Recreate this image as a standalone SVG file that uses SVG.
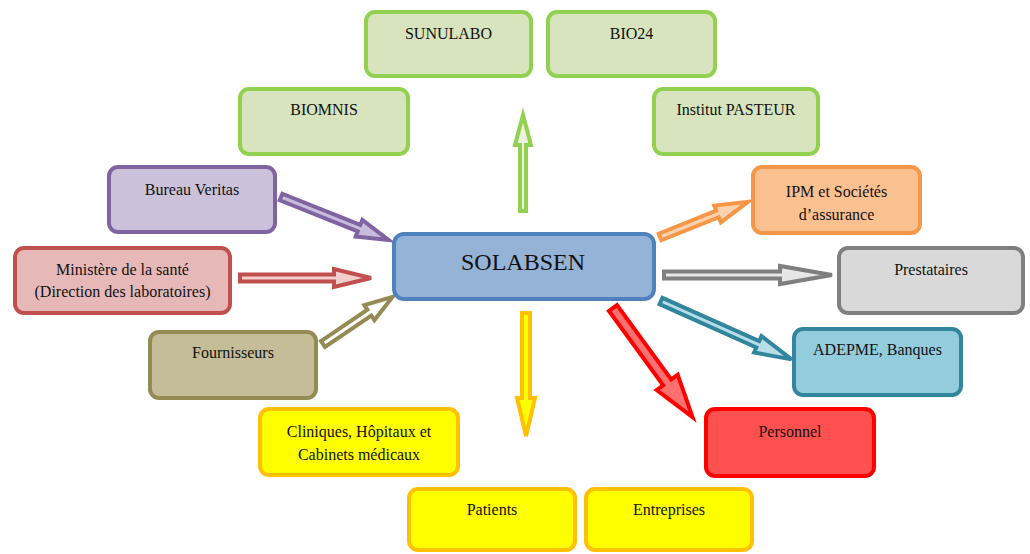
<svg xmlns="http://www.w3.org/2000/svg" width="1030" height="554" viewBox="0 0 1030 554">
<style>
.box{stroke-width:4}
.lbl{font-family:"Liberation Serif","Times New Roman",serif;font-size:16px;fill:#111;text-anchor:middle}
.arr{stroke-width:4;stroke-linejoin:miter}
.g{fill:#D7E4BD;stroke:#92D050}
</style>
<rect width="1030" height="554" fill="#fff"/>
<g id="connectors">
<polygon class="arr" fill="#EBF1DE" stroke="#92D050" transform="translate(523,211) rotate(-90)" points="0,-3 66,-3 66,-8 96,0 66,8 66,3 0,3"/>
<polygon class="arr" fill="#C9BCDA" stroke="#8064A2" transform="translate(281,197) rotate(21.8)" points="0,-3.5 84,-3.5 84,-9 116,0 84,9 84,3.5 0,3.5"/>
<polygon class="arr" fill="#F2CFCE" stroke="#C0504D" points="240,274.5 334,274.5 334,269 371,278 334,287 334,281.5 240,281.5"/>
<polygon class="arr" fill="#FFFFFF" stroke="#948A54" transform="translate(323,344) rotate(-34.1)" points="0,-3.5 56,-3.5 56,-9 84,0 56,9 56,3.5 0,3.5"/>
<polygon class="arr" fill="#FAD2B0" stroke="#F79646" transform="translate(660,237) rotate(-21.8)" points="0,-3.5 62,-3.5 62,-9 95,0 62,9 62,3.5 0,3.5"/>
<polygon class="arr" fill="#E6E6E6" stroke="#7F7F7F" points="664,271.5 780,271.5 780,266 832,275 780,284 780,278.5 664,278.5"/>
<polygon class="arr" fill="#B7DEE8" stroke="#31859C" transform="translate(661,301) rotate(24.1)" points="0,-3.5 106,-3.5 106,-9 143,0 106,9 106,3.5 0,3.5"/>
<polygon class="arr" fill="#FF7070" stroke="#FF0000" transform="translate(613,308) rotate(53.9)" points="0,-5 92,-5 92,-13 135,0 92,13 92,5 0,5"/>
<polygon class="arr" fill="#FFFF00" stroke="#FFC000" points="522,313 530,313 530,398 535,398 526,436 517,398 522,398"/>
</g>
<g id="sunulabo"><rect class="box g" x="366" y="12" width="165" height="64" rx="9"/><text class="lbl" x="448.5" y="39">SUNULABO</text></g>
<g id="bio24"><rect class="box g" x="548" y="12" width="167" height="64" rx="9"/><text class="lbl" x="631.5" y="39">BIO24</text></g>
<g id="biomnis"><rect class="box g" x="240" y="89" width="168" height="65" rx="9"/><text class="lbl" x="324" y="115">BIOMNIS</text></g>
<g id="pasteur"><rect class="box g" x="654" y="89" width="164" height="65" rx="9"/><text class="lbl" x="736" y="115">Institut PASTEUR</text></g>
<g id="veritas"><rect class="box" fill="#CCC1DA" stroke="#8064A2" x="109" y="167" width="166" height="65" rx="9"/><text class="lbl" x="192" y="195">Bureau Veritas</text></g>
<g id="ministere"><rect class="box" fill="#E6B9B8" stroke="#C0504D" x="15" y="248" width="215" height="65" rx="9"/><text class="lbl" x="122.5" y="275">Ministère de la santé</text><text class="lbl" x="122.5" y="297">(Direction des laboratoires)</text></g>
<g id="fournisseurs"><rect class="box" fill="#C4BD97" stroke="#948A54" x="150" y="332" width="166" height="66" rx="9"/><text class="lbl" x="233" y="358">Fournisseurs</text></g>
<g id="solabsen"><rect class="box" fill="#95B3D7" stroke="#4F81BD" x="394" y="234" width="260" height="65" rx="10"/><text class="lbl" style="font-size:24px" x="523" y="270">SOLABSEN</text></g>
<g id="ipm"><rect class="box" fill="#FAC090" stroke="#F79646" x="753" y="167" width="167" height="66" rx="9"/><text class="lbl" x="836.5" y="197">IPM et Sociétés</text><text class="lbl" x="836.5" y="220">d’assurance</text></g>
<g id="prestataires"><rect class="box" fill="#D9D9D9" stroke="#7F7F7F" x="839" y="248" width="184" height="65" rx="9"/><text class="lbl" x="931" y="275">Prestataires</text></g>
<g id="adepme"><rect class="box" fill="#93CDDD" stroke="#31859C" x="794" y="329" width="167" height="66" rx="9"/><text class="lbl" x="877.5" y="355">ADEPME, Banques</text></g>
<g id="personnel"><rect class="box" fill="#FF5050" stroke="#FF0000" x="706" y="409" width="168" height="67" rx="9"/><text class="lbl" x="790" y="437">Personnel</text></g>
<g id="cliniques"><rect class="box" fill="#FFFF00" stroke="#FFC000" x="260" y="409" width="198" height="66" rx="9"/><text class="lbl" x="359" y="437">Cliniques, Hôpitaux et</text><text class="lbl" x="359" y="460">Cabinets médicaux</text></g>
<g id="patients"><rect class="box" fill="#FFFF00" stroke="#FFC000" x="409" y="489" width="166" height="61" rx="9"/><text class="lbl" x="492" y="515">Patients</text></g>
<g id="entreprises"><rect class="box" fill="#FFFF00" stroke="#FFC000" x="586" y="489" width="166" height="61" rx="9"/><text class="lbl" x="669" y="515">Entreprises</text></g>
</svg>
